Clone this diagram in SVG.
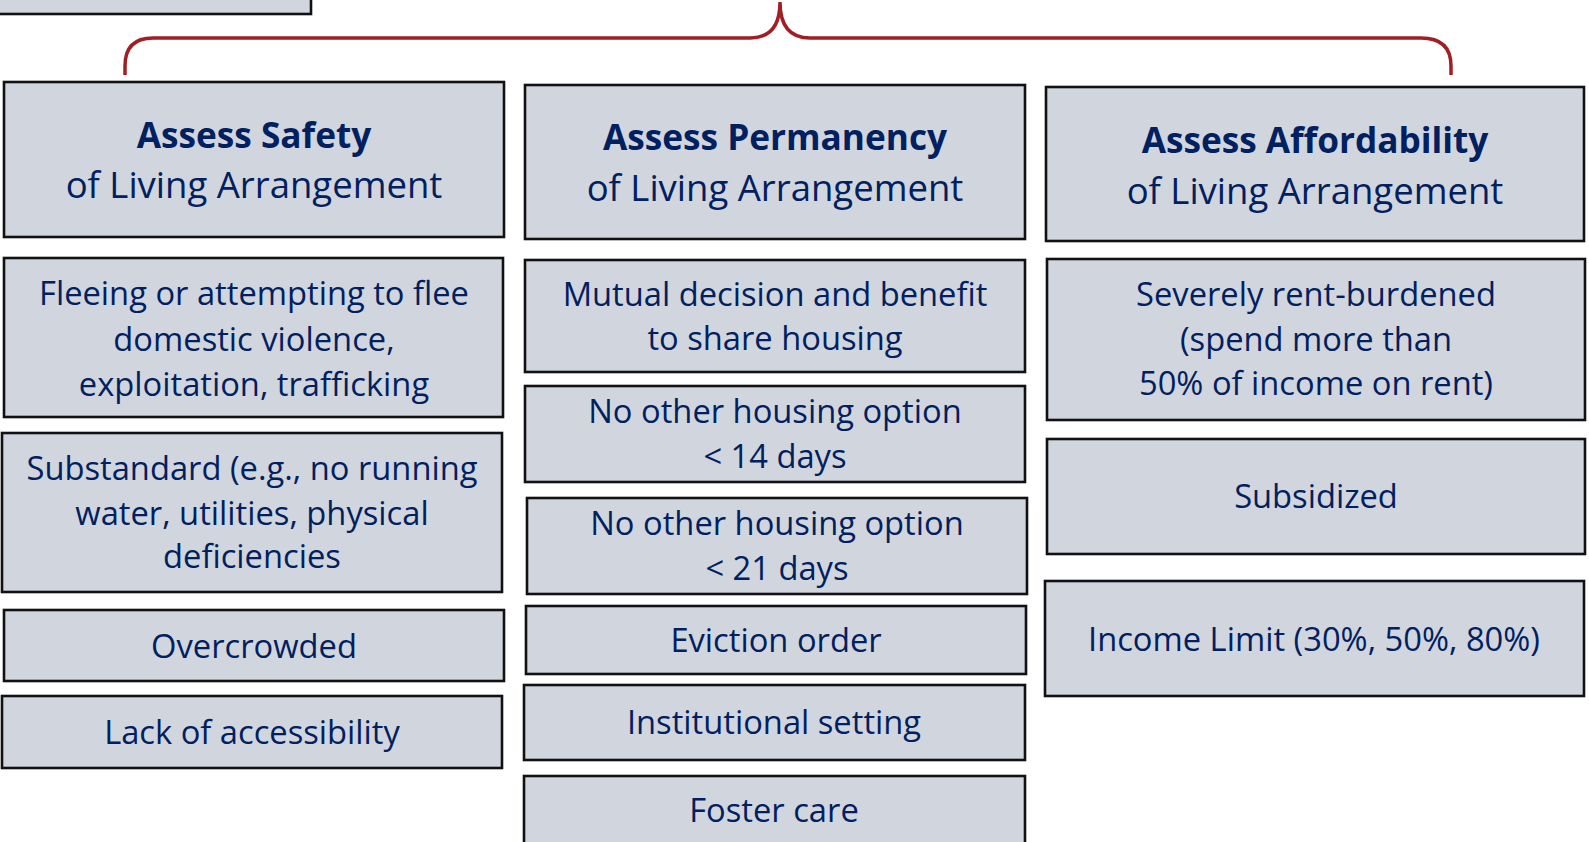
<svg xmlns="http://www.w3.org/2000/svg" width="1589" height="842" viewBox="0 0 1589 842">
<style>
  .box { fill: #D1D6DE; stroke: #111111; stroke-width: 2.6; }
  .t { font-family: "Open Sans", "Liberation Sans", sans-serif; fill: #002060; text-anchor: middle; }
  .b { font-size: 32.7px; }
  .h { font-size: 36.5px; }
  .hb { font-size: 35.2px; font-weight: bold; }
  .brace { fill: none; stroke: #A11F24; stroke-width: 3.5; stroke-linecap: butt; }
</style>
<rect width="1589" height="842" fill="#FFFFFF"/>

<g id="top-partial">
  <rect class="box" x="-5" y="-30" width="316" height="44"/>
</g>

<g id="connectors">
  <path class="brace" d="M125,75 L125,66 Q125,38 153,38 L750,38 Q780,38 780,2 Q780,38 810,38 L1421,38 Q1451,38 1451,66 L1451,75"/>
</g>

<g id="safety-header">
  <rect class="box" x="4" y="82" width="500" height="155"/>
  <text class="t hb" x="254" y="148">Assess Safety</text>
  <text class="t h" x="254" y="198">of Living Arrangement</text>
</g>
<g id="permanency-header">
  <rect class="box" x="525" y="85" width="500" height="154"/>
  <text class="t hb" x="775" y="150">Assess Permanency</text>
  <text class="t h" x="775" y="201">of Living Arrangement</text>
</g>
<g id="affordability-header">
  <rect class="box" x="1046" y="87" width="538" height="154"/>
  <text class="t hb" x="1315" y="153">Assess Affordability</text>
  <text class="t h" x="1315" y="204">of Living Arrangement</text>
</g>

<g id="fleeing">
  <rect class="box" x="4" y="258" width="499" height="159"/>
  <text class="t b" x="254" y="305">Fleeing or attempting to flee</text>
  <text class="t b" x="254" y="351">domestic violence,</text>
  <text class="t b" x="254" y="396">exploitation, trafficking</text>
</g>
<g id="substandard">
  <rect class="box" x="2" y="433" width="500" height="159"/>
  <text class="t b" x="252" y="480">Substandard (e.g., no running</text>
  <text class="t b" x="252" y="525">water, utilities, physical</text>
  <text class="t b" x="252" y="568">deficiencies</text>
</g>
<g id="overcrowded">
  <rect class="box" x="4" y="610" width="500" height="71"/>
  <text class="t b" x="254" y="658">Overcrowded</text>
</g>
<g id="accessibility">
  <rect class="box" x="2" y="696" width="500" height="72"/>
  <text class="t b" x="252" y="744">Lack of accessibility</text>
</g>

<g id="mutual">
  <rect class="box" x="525" y="260" width="500" height="112"/>
  <text class="t b" x="775" y="306">Mutual decision and benefit</text>
  <text class="t b" x="775" y="350">to share housing</text>
</g>
<g id="option14">
  <rect class="box" x="525" y="386" width="500" height="96"/>
  <text class="t b" x="775" y="423">No other housing option</text>
  <text class="t b" x="775" y="468">&lt; 14 days</text>
</g>
<g id="option21">
  <rect class="box" x="527" y="498" width="500" height="96"/>
  <text class="t b" x="777" y="535">No other housing option</text>
  <text class="t b" x="777" y="580">&lt; 21 days</text>
</g>
<g id="eviction">
  <rect class="box" x="526" y="606" width="500" height="68"/>
  <text class="t b" x="776" y="652">Eviction order</text>
</g>
<g id="institutional">
  <rect class="box" x="524" y="685" width="501" height="75"/>
  <text class="t b" x="774" y="734">Institutional setting</text>
</g>
<g id="foster">
  <rect class="box" x="524" y="776" width="501" height="80"/>
  <text class="t b" x="774" y="822">Foster care</text>
</g>

<g id="rent-burdened">
  <rect class="box" x="1047" y="259" width="538" height="161"/>
  <text class="t b" x="1316" y="306">Severely rent-burdened</text>
  <text class="t b" x="1316" y="351">(spend more than</text>
  <text class="t b" x="1316" y="395">50% of income on rent)</text>
</g>
<g id="subsidized">
  <rect class="box" x="1047" y="439" width="538" height="115"/>
  <text class="t b" x="1316" y="508">Subsidized</text>
</g>
<g id="income-limit">
  <rect class="box" x="1045" y="581" width="539" height="115"/>
  <text class="t b" x="1314" y="651">Income Limit (30%, 50%, 80%)</text>
</g>
</svg>
